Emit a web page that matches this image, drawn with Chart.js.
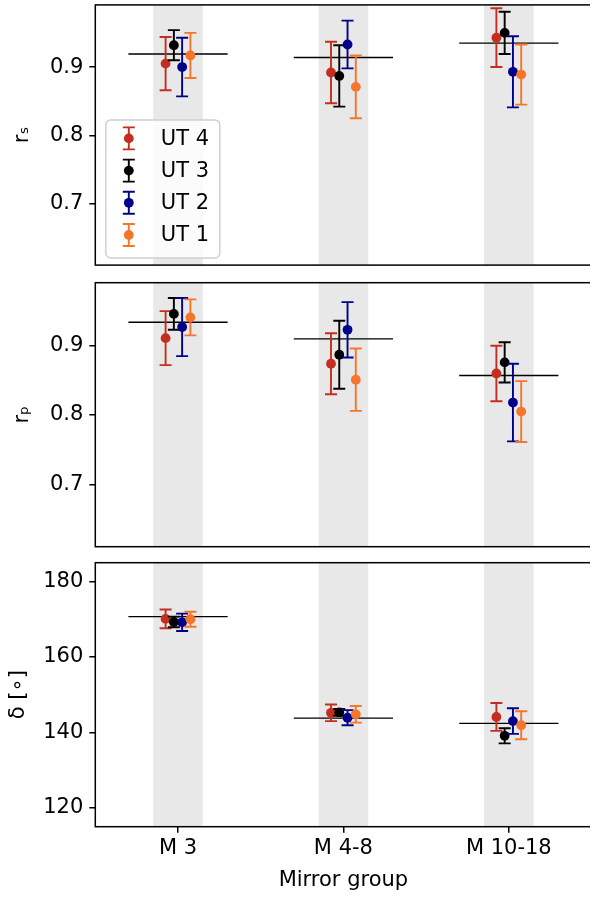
<!DOCTYPE html>
<html>
<head>
<meta charset="utf-8">
<title>Mirror group fits</title>
<script src="https://cdn.jsdelivr.net/npm/chart.js@4.4.0/dist/chart.umd.min.js"></script>
<style>
  html, body { margin: 0; padding: 0; background: #fff; }
  #wrap { position: relative; width: 590px; height: 899px; overflow: hidden; }
  #wrap canvas { position: absolute; left: 0; }
</style>
</head>
<body>
<div id="wrap">
  <canvas id="rsChart" width="600" height="270" style="top:0px"></canvas>
  <canvas id="rpChart" width="600" height="280" style="top:275px"></canvas>
  <canvas id="deltaChart" width="600" height="344" style="top:555px"></canvas>
</div>
<script>
// categories and series
const GROUPS = ['M 3', 'M 4-8', 'M 10-18'];
const TELESCOPES = ['UT 4', 'UT 3', 'UT 2', 'UT 1'];
const COLORS = ['#c42e1f', '#000000', '#00008b', '#f5762a'];

// rows: UT 4, UT 3, UT 2, UT 1 / columns: M 3, M 4-8, M 10-18
const RS = [
    [0.905, 0.892, 0.943],
    [0.932, 0.887, 0.950],
    [0.900, 0.933, 0.893],
    [0.917, 0.871, 0.889]
];
const RS_ERR = [
    [0.039, 0.045, 0.043],
    [0.022, 0.045, 0.031],
    [0.043, 0.035, 0.052],
    [0.033, 0.046, 0.044]
];
const RS_MEAN = [0.919, 0.914, 0.935];

const RP = [
    [0.911, 0.874, 0.860],
    [0.946, 0.887, 0.876],
    [0.927, 0.923, 0.818],
    [0.941, 0.851, 0.805]
];
const RP_ERR = [
    [0.039, 0.044, 0.040],
    [0.023, 0.049, 0.029],
    [0.042, 0.040, 0.056],
    [0.026, 0.045, 0.044]
];
const RP_MEAN = [0.934, 0.910, 0.857];

const DELTA = [
    [170.1, 145.2, 144.1],
    [169.3, 145.3, 139.1],
    [169.2, 143.9, 143.0],
    [170.0, 144.8, 141.9]
];
const DELTA_ERR = [
    [2.5, 2.2, 3.7],
    [1.4, 0.9, 2.0],
    [2.3, 2.0, 3.4],
    [2.0, 2.2, 3.7]
];
const DELTA_MEAN = [170.7, 143.8, 142.4];

const R_TICKS = [0.7, 0.8, 0.9];
const DELTA_TICKS = [120, 140, 160, 180];

// x offsets of the telescopes inside a group, half widths of band and mean line
const OFFSETS = [-0.075, -0.025, 0.025, 0.075];
const BAND_HALF = 0.15;
const MEAN_HALF = 0.3;

const FONT = { family: 'DejaVu Sans', size: 21 };

// grey band behind each group
const bandPlugin = {
    id: 'bands',
    beforeDatasetsDraw(chart) {
        const { ctx, chartArea, scales } = chart;
        ctx.save();
        ctx.fillStyle = '#e8e8e8';
        GROUPS.forEach((g, i) => {
            const x1 = scales.x.getPixelForValue(i - BAND_HALF);
            const x2 = scales.x.getPixelForValue(i + BAND_HALF);
            ctx.fillRect(x1, chartArea.top, x2 - x1, chartArea.bottom - chartArea.top);
        });
        ctx.restore();
    }
};

// vertical error bars with caps, drawn just before each dataset's markers
const errorBarPlugin = {
    id: 'errorBars',
    beforeDatasetDraw(chart, args) {
        const ds = chart.data.datasets[args.index];
        if (!ds.errors) return;
        const { ctx } = chart;
        const yScale = chart.scales.y;
        ctx.save();
        ctx.strokeStyle = ds.backgroundColor;
        ctx.lineWidth = 1.9;
        args.meta.data.forEach((pt, i) => {
            const v = ds.data[i].y;
            const e = ds.errors[i];
            const yTop = yScale.getPixelForValue(v + e);
            const yBot = yScale.getPixelForValue(v - e);
            ctx.beginPath();
            ctx.moveTo(pt.x, yTop);
            ctx.lineTo(pt.x, yBot);
            ctx.moveTo(pt.x - 6, yTop);
            ctx.lineTo(pt.x + 6, yTop);
            ctx.moveTo(pt.x - 6, yBot);
            ctx.lineTo(pt.x + 6, yBot);
            ctx.stroke();
        });
        ctx.restore();
    }
};

// box around the axes
const framePlugin = {
    id: 'frame',
    afterDatasetsDraw(chart) {
        const { ctx, chartArea } = chart;
        ctx.save();
        ctx.strokeStyle = '#000';
        ctx.lineWidth = 1.5;
        ctx.strokeRect(chartArea.left, chartArea.top, chartArea.right - chartArea.left, chartArea.bottom - chartArea.top);
        ctx.restore();
    }
};

// matplotlib-like legend with error bar symbols (top panel only)
const legendPlugin = {
    id: 'ebLegend',
    afterDraw(chart) {
        const { ctx, chartArea } = chart;
        const x0 = chartArea.left + 10.5, y0 = chartArea.top + 115;
        const w = 114, h = 138;
        ctx.save();
        ctx.beginPath();
        ctx.roundRect(x0, y0, w, h, 5);
        ctx.fillStyle = 'rgba(255,255,255,0.8)';
        ctx.fill();
        ctx.strokeStyle = '#d0d0d0';
        ctx.lineWidth = 1.5;
        ctx.stroke();
        const items = chart.data.datasets.filter(d => d.errors);
        items.forEach((d, i) => {
            const cy = y0 + 18.5 + i * 32.2;
            const cx = x0 + 23;
            ctx.strokeStyle = d.backgroundColor;
            ctx.lineWidth = 1.9;
            ctx.beginPath();
            ctx.moveTo(cx, cy - 11); ctx.lineTo(cx, cy + 11);
            ctx.moveTo(cx - 6, cy - 11); ctx.lineTo(cx + 6, cy - 11);
            ctx.moveTo(cx - 6, cy + 11); ctx.lineTo(cx + 6, cy + 11);
            ctx.stroke();
            ctx.fillStyle = d.backgroundColor;
            ctx.beginPath();
            ctx.arc(cx, cy, 4.9, 0, Math.PI * 2);
            ctx.fill();
            ctx.fillStyle = '#000';
            ctx.font = '21px "DejaVu Sans"';
            ctx.textBaseline = 'middle';
            ctx.textAlign = 'left';
            ctx.fillText(d.label, x0 + 55, cy + 1);
        });
        ctx.restore();
    }
};

function buildDatasets(values, errors, means) {
    const meanPts = [];
    means.forEach((m, i) => {
        meanPts.push({ x: i - MEAN_HALF, y: m }, { x: i + MEAN_HALF, y: m }, { x: i + 0.5, y: null });
    });
    const sets = [{
        type: 'line',
        label: 'mean',
        data: meanPts,
        borderColor: '#000',
        borderWidth: 1.4,
        pointRadius: 0,
        spanGaps: false,
        order: 10
    }];
    TELESCOPES.forEach((t, k) => {
        sets.push({
            label: t,
            data: values[k].map((v, i) => ({ x: i + OFFSETS[k], y: v })),
            errors: errors[k],
            backgroundColor: COLORS[k],
            borderColor: COLORS[k],
            pointRadius: 4.9,
            pointBorderWidth: 0,
            order: 4 - k
        });
    });
    return sets;
}

function makeChart(id, values, errors, means, opts) {
    const plugins = [bandPlugin, errorBarPlugin, framePlugin];
    if (opts.legend) plugins.push(legendPlugin);
    return new Chart(document.getElementById(id), {
        type: 'scatter',
        data: { datasets: buildDatasets(values, errors, means) },
        options: {
            responsive: false,
            animation: false,
            events: [],
            layout: { padding: { top: opts.padTop, bottom: opts.padBottom, left: 0, right: 8.5 } },
            plugins: { legend: { display: false }, tooltip: { enabled: false } },
            scales: {
                x: {
                    type: 'linear',
                    min: -0.5,
                    max: 2.5,
                    display: opts.showX,
                    afterBuildTicks: (s) => { s.ticks = GROUPS.map((g, i) => ({ value: i })); },
                    afterFit: (s) => {
                        s.paddingLeft = 0;
                        s.paddingRight = 0;
                        if (opts.showX) s.height = 72.3;
                    },
                    ticks: {
                        color: '#000',
                        font: FONT,
                        padding: 3,
                        autoSkip: false,
                        maxRotation: 0,
                        callback: (v) => GROUPS[v]
                    },
                    grid: { drawOnChartArea: false, tickLength: 6, color: '#000', lineWidth: 1.5 },
                    border: { display: false },
                    title: { display: true, text: 'Mirror group', color: '#000', font: FONT, padding: { top: 0, bottom: 6 } }
                },
                y: {
                    min: opts.yMin,
                    max: opts.yMax,
                    afterBuildTicks: (s) => { s.ticks = opts.ticks.map(v => ({ value: v })); },
                    afterFit: (s) => {
                        s.width = 95.3;
                        s.paddingTop = 0;
                        s.paddingBottom = 0;
                    },
                    ticks: {
                        color: '#000',
                        font: FONT,
                        padding: 6,
                        callback: opts.fmt
                    },
                    grid: { drawOnChartArea: false, tickLength: 6, color: '#000', lineWidth: 1.5 },
                    border: { display: false },
                    title: { display: true, text: opts.title, color: '#000', font: FONT, padding: { top: opts.titlePad, bottom: 0 } }
                }
            }
        },
        plugins
    });
}

makeChart('rsChart', RS, RS_ERR, RS_MEAN, {
    yMin: 0.61, yMax: 0.991, ticks: R_TICKS, fmt: v => v.toFixed(1),
    title: 'rₛ', titlePad: 10, padTop: 2.7, padBottom: 3.3, showX: false, legend: true
});
makeChart('rpChart', RP, RP_ERR, RP_MEAN, {
    yMin: 0.61, yMax: 0.991, ticks: R_TICKS, fmt: v => v.toFixed(1),
    title: 'rₚ', titlePad: 10, padTop: 7.7, padBottom: 8.3, showX: false
});
makeChart('deltaChart', DELTA, DELTA_ERR, DELTA_MEAN, {
    yMin: 115, yMax: 185, ticks: DELTA_TICKS, fmt: v => String(v),
    title: 'δ [∘]', titlePad: 6, padTop: 7.7, padBottom: 0, showX: true
});
</script>
</body>
</html>
